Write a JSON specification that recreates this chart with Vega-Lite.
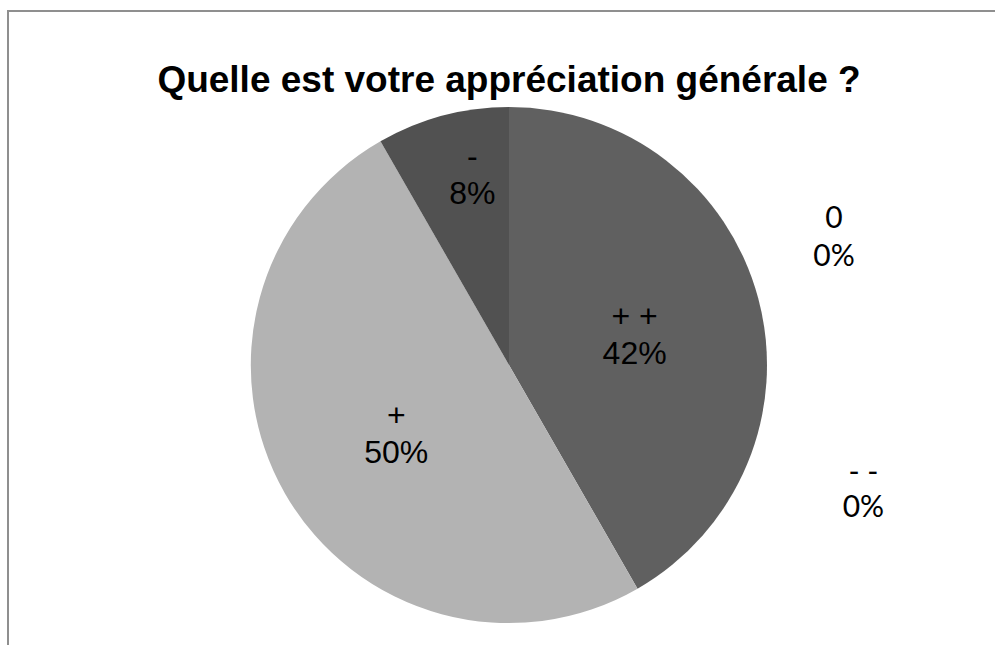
{
  "$schema": "https://vega.github.io/schema/vega-lite/v6.json",
  "autosize": "none",
  "width": 1002,
  "height": 708,
  "padding": {"left": 8, "top": 11, "right": 0, "bottom": 0},
  "background": "white",
  "view": {"stroke": "#8f8f8f", "strokeWidth": 2},
  "title": {
    "text": "Quelle est votre appréciation générale ?",
    "font": "Liberation Sans",
    "fontSize": 37,
    "fontWeight": "bold",
    "color": "#000000",
    "anchor": "middle",
    "baseline": "alphabetic",
    "offset": -145
  },
  "data": {
    "values": [
      {"cat": "+ +", "value": 41.7, "pct": "42%", "order": 1},
      {"cat": "0", "value": 0, "pct": "0%", "order": 2},
      {"cat": "- -", "value": 0, "pct": "0%", "order": 3},
      {"cat": "+", "value": 50, "pct": "50%", "order": 4},
      {"cat": "-", "value": 8.3, "pct": "8%", "order": 5}
    ]
  },
  "transform": [
    {"calculate": "datum.cat + '\\n' + datum.pct", "as": "label"}
  ],
  "encoding": {
    "theta": {"field": "value", "type": "quantitative", "stack": true},
    "order": {"field": "order", "type": "quantitative"}
  },
  "layer": [
    {
      "mark": {"type": "arc", "radius": 258},
      "encoding": {
        "color": {
          "field": "cat",
          "type": "nominal",
          "scale": {"domain": ["+ +", "0", "- -", "+", "-"], "range": ["#606060", "#8a8a8a", "#3a3a3a", "#b3b3b3", "#515151"]},
          "legend": null
        }
      }
    },
    {
      "mark": {"type": "text", "radius": 130, "dy": -14, "font": "Liberation Sans", "fontSize": 32, "color": "#000000", "lineBreak": "\n", "lineHeight": 37, "baseline": "middle", "align": "center"},
      "encoding": {
        "text": {"condition": {"test": "datum.cat === '+ +' || datum.cat === '+'", "field": "label"}, "value": ""}
      }
    },
    {
      "mark": {"type": "text", "radius": 193, "dy": -19, "thetaOffset": 0.07, "font": "Liberation Sans", "fontSize": 32, "color": "#000000", "lineBreak": "\n", "lineHeight": 37, "baseline": "middle", "align": "center"},
      "encoding": {
        "text": {"condition": {"test": "datum.cat === '-'", "field": "label"}, "value": ""}
      }
    },
    {
      "mark": {"type": "text", "radius": 349, "dy": -19, "thetaOffset": -1.422, "font": "Lato", "fontSize": 30, "color": "#000000", "lineBreak": "\n", "lineHeight": 38, "baseline": "middle", "align": "center"},
      "encoding": {
        "text": {"condition": {"test": "datum.cat === '0'", "field": "label"}, "value": ""}
      }
    },
    {
      "mark": {"type": "text", "radius": 376, "dy": -17, "thetaOffset": -0.709, "font": "Lato", "fontSize": 30, "color": "#000000", "lineBreak": "\n", "lineHeight": 35, "baseline": "middle", "align": "center"},
      "encoding": {
        "text": {"condition": {"test": "datum.cat === '- -'", "field": "label"}, "value": ""}
      }
    }
  ]
}
